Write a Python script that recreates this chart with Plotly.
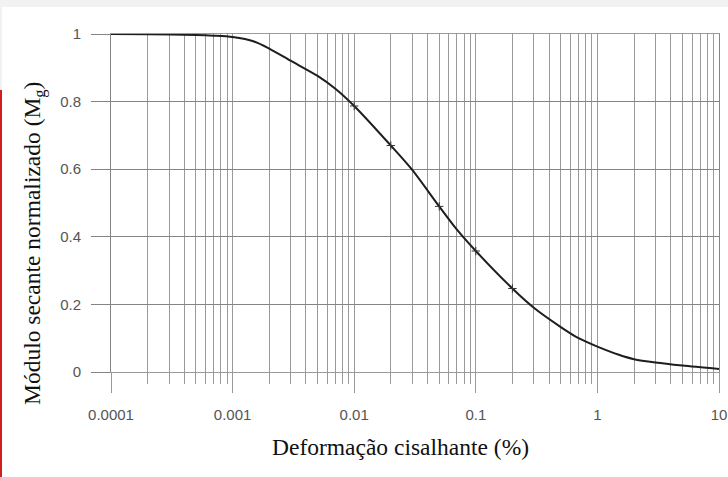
import plotly.graph_objects as go

# Normalized secant modulus vs. shear strain (log scale)
strain = [0.0001, 0.0002, 0.0005, 0.0007, 0.001, 0.0015, 0.002, 0.003, 0.005,
          0.007, 0.01, 0.02, 0.03, 0.05, 0.07, 0.1, 0.2, 0.3, 0.5, 0.7, 1,
          1.5, 2, 3, 5, 10]
modulus = [1.0, 0.999, 0.997, 0.995, 0.991, 0.978, 0.957, 0.921, 0.876,
           0.838, 0.787, 0.670, 0.598, 0.490, 0.421, 0.358, 0.247, 0.190,
           0.133, 0.100, 0.075, 0.051, 0.038, 0.028, 0.019, 0.009]

# measured points flagged with small crosses
mark_strain = [0.01, 0.02, 0.05, 0.1, 0.2]
mark_modulus = [0.787, 0.670, 0.490, 0.358, 0.247]

x_tickvals = [0.0001, 0.001, 0.01, 0.1, 1, 10]
x_ticktext = ["0.0001", "0.001", "0.01", "0.1", "1", "10"]
y_tickvals = [0, 0.2, 0.4, 0.6, 0.8, 1]
y_ticktext = ["0", "0.2", "0.4", "0.6", "0.8", "1"]

GRID_V = "#9a9a9a"
GRID_H = "#858585"
TICK_FONT = dict(family="Liberation Sans, Arial, sans-serif", size=15, color="#555555")
TITLE_FONT = dict(family="Liberation Serif, Times New Roman, serif", size=23.5, color="#111111")

fig = go.Figure()
fig.add_trace(go.Scatter(
    x=strain, y=modulus, mode="lines",
    line=dict(color="#1e1e1e", width=2, shape="spline", smoothing=0.8),
    hoverinfo="x+y", showlegend=False,
))
fig.add_trace(go.Scatter(
    x=mark_strain, y=mark_modulus, mode="markers",
    marker=dict(symbol="cross-thin", size=6, line=dict(color="#333333", width=1)),
    showlegend=False,
))

fig.update_xaxes(
    type="log", range=[-4, 1], automargin=False,
    tickvals=x_tickvals, ticktext=x_ticktext,
    showgrid=True, gridcolor=GRID_V, gridwidth=1,
    ticks="outside", ticklen=20, tickcolor=GRID_V, tickwidth=1,
    ticklabelstandoff=9,
    minor=dict(dtick="D1", showgrid=True, gridcolor=GRID_V, gridwidth=1,
               ticks="outside", ticklen=11, tickcolor=GRID_V, tickwidth=1),
    showline=True, linecolor=GRID_V, linewidth=1, mirror=True,
    zeroline=False, tickfont=TICK_FONT,
)
fig.update_yaxes(
    range=[0, 1], automargin=False,
    tickvals=y_tickvals, ticktext=y_ticktext,
    showgrid=True, gridcolor=GRID_H, gridwidth=1,
    ticks="outside", ticklen=19, tickcolor=GRID_H, tickwidth=1,
    ticklabelstandoff=7,
    showline=True, linecolor=GRID_H, linewidth=1, mirror=True,
    zeroline=False, tickfont=TICK_FONT,
)

W, H = 728, 477
L, R, T, B = 111, 9, 34, 105
pw, ph = W - L - R, H - T - B


def px(xp):
    return (xp - L) / pw


def py(yp):
    return (H - B - yp) / ph


shapes = [
    # light strip along the top edge
    dict(type="rect", xref="paper", yref="paper", x0=px(0), x1=px(W), y0=py(0), y1=py(7),
         fillcolor="#f2f2f2", line=dict(width=0), layer="below"),
    dict(type="rect", xref="paper", yref="paper", x0=px(0), x1=px(2), y0=py(7), y1=py(90),
         fillcolor="#f2f2f2", line=dict(width=0), layer="below"),
    # red rule on the left edge
    dict(type="rect", xref="paper", yref="paper", x0=px(0), x1=px(2), y0=py(90), y1=py(H),
         fillcolor="#d01f1f", line=dict(width=0)),
]

annotations = [
    dict(text="Deformação cisalhante (%)", xref="paper", yref="paper",
         x=px(400), y=py(447), xanchor="center", yanchor="middle",
         showarrow=False, font=TITLE_FONT),
    dict(text="Módulo secante normalizado (M<sub>g</sub>)", xref="paper", yref="paper",
         x=px(34), y=py(244), xanchor="center", yanchor="middle", textangle=-90,
         showarrow=False, font=TITLE_FONT),
]

fig.update_layout(
    width=W, height=H,
    margin=dict(l=L, r=R, t=T, b=B),
    paper_bgcolor="white", plot_bgcolor="white",
    shapes=shapes, annotations=annotations,
    showlegend=False,
)

fig.write_html("out.html")
